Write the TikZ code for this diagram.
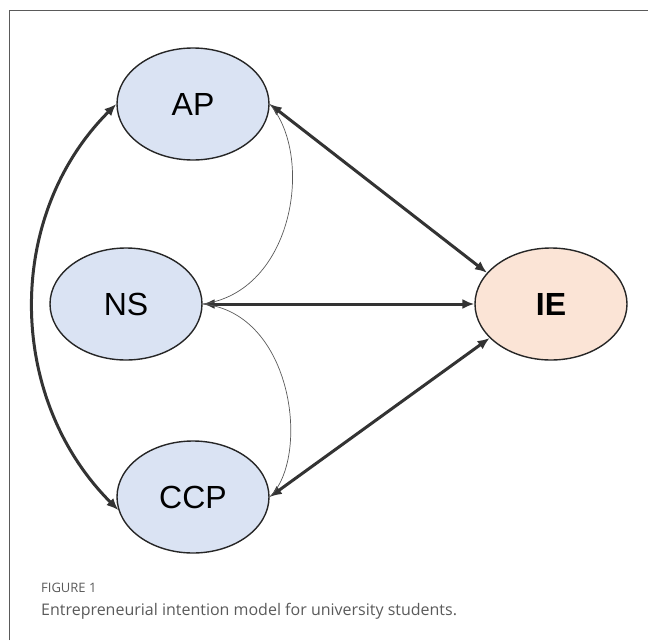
\documentclass[tikz,border=0pt]{standalone}
\usepackage{fontspec}
\setmainfont{Liberation Sans}
\newfontfamily\capfont{Open Sans}
\usetikzlibrary{shapes.geometric,arrows.meta}
\definecolor{factorblue}{HTML}{DAE3F3}
\definecolor{factororange}{HTML}{FBE4D6}
\definecolor{edgegray}{HTML}{333333}
\definecolor{captiongray}{HTML}{5A5A5A}
\tikzset{
    factor/.style={ellipse, draw=black!85, line width=1.4pt, fill=factorblue,
        minimum width=152pt, minimum height=112pt, inner sep=0pt,
        font=\fontsize{32}{36}\selectfont},
    path/.style={{Latex[length=12pt,width=10pt]}-{Latex[length=12pt,width=10pt]},
        edgegray, line width=3pt},
    covar/.style={black!65, line width=0.7pt},
}
\begin{document}
\begin{tikzpicture}[x=1pt, y=-1pt]
    \useasboundingbox (0,0) rectangle (648,640);
    \draw[captiongray, line width=1pt] (9,640) -- (9,10) -- (648,10);

    % latent factors
    \node[factor] (AP) at (193,104) {AP};
    \node[factor] (NS) at (126,304) {NS};
    \node[factor] (CCP) at (193,497) {CCP};
    \node[factor, fill=factororange, font=\fontsize{32}{36}\selectfont\bfseries]
        (IE) at (551,304) {IE};

    % structural paths
    \draw[path] (AP.east) -- (IE.154);
    \draw[path] (NS.east) -- (IE.west);
    \draw[path] (CCP.east) -- (IE.209);
    \draw[path] (AP.west) .. controls +(-112,112) and +(-112,-112) .. (CCP.190);

    % covariances
    \draw[covar] (AP.east) .. controls +(45,52) and +(91,-12) .. (NS.east);
    \draw[covar] (NS.east) .. controls +(91,9) and +(41,-39) .. (CCP.east);

    % caption
    \node[anchor=base west, inner sep=0pt, text=captiongray,
        font=\capfont\fontsize{13}{15}\selectfont] (fig) at (41,592) {FIGURE 1};
    \node[anchor=base west, inner sep=0pt, text=captiongray,
        font=\capfont\fontsize{16}{19}\selectfont] (cap) at (41,615)
        {Entrepreneurial intention model for university students.};
\end{tikzpicture}
\end{document}
